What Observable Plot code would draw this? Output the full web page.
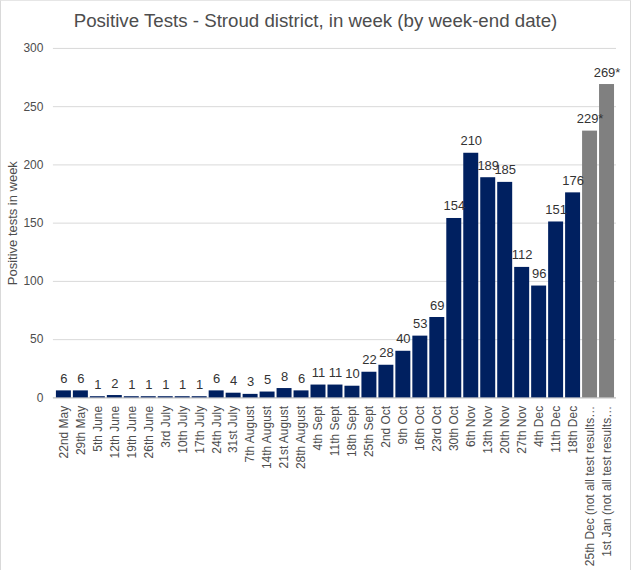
<!DOCTYPE html>
<html>
<head>
<meta charset="utf-8">
<script src="https://cdn.jsdelivr.net/npm/d3@7"></script>
<script src="https://cdn.jsdelivr.net/npm/@observablehq/plot@0.6"></script>
<style>
  html, body { margin: 0; padding: 0; background: #fff; }
  #wrap { position: relative; width: 629px; height: 569px; border: 1px solid #d9d9d9; border-top-color: #e6e6e6; box-sizing: content-box; overflow: hidden; }
  #title { position: absolute; top: 9px; left: 0; width: 629px; text-align: center; font-family: "Liberation Sans", Arial, sans-serif; font-size: 18.7px; color: #4d4d4d; white-space: nowrap; }
  #chart { position: absolute; left: -1px; top: -1px; }
</style>
</head>
<body>
<div id="wrap">
  <div id="chart"></div>
  <div id="title">Positive Tests - Stroud district, in week (by week-end date)</div>
</div>
<script>
const weeks = [
  "22nd May", "29th May", "5th June", "12th June", "19th June", "26th June",
  "3rd July", "10th July", "17th July", "24th July", "31st July",
  "7th August", "14th August", "21st August", "28th August",
  "4th Sept", "11th Sept", "18th Sept", "25th Sept",
  "2nd Oct", "9th Oct", "16th Oct", "23rd Oct", "30th Oct",
  "6th Nov", "13th Nov", "20th Nov", "27th Nov",
  "4th Dec", "11th Dec", "18th Dec",
  "25th Dec (not all test results…", "1st Jan (not all test results…"
];
const positives = [6, 6, 1, 2, 1, 1, 1, 1, 1, 6, 4, 3, 5, 8, 6, 11, 11, 10, 22, 28, 40, 53, 69, 154, 210, 189, 185, 112, 96, 151, 176, 229, 269];
const valueLabels = ["6", "6", "1", "2", "1", "1", "1", "1", "1", "6", "4", "3", "5", "8", "6", "11", "11", "10", "22", "28", "40", "53", "69", "154", "210", "189", "185", "112", "96", "151", "176", "229*", "269*"];
const status = [
  "complete", "complete", "complete", "complete", "complete", "complete", "complete", "complete", "complete", "complete", "complete",
  "complete", "complete", "complete", "complete", "complete", "complete", "complete", "complete", "complete", "complete", "complete",
  "complete", "complete", "complete", "complete", "complete", "complete", "complete", "complete", "complete",
  "incomplete", "incomplete"
];
const yTicks = [0, 50, 100, 150, 200, 250, 300];

const data = weeks.map((w, i) => ({ week: w, value: positives[i], label: valueLabels[i], status: status[i] }));

const font = "'Liberation Sans', Arial, sans-serif";

const chart = Plot.plot({
  width: 631,
  height: 570,
  marginTop: 48,
  marginBottom: 172,
  marginLeft: 53,
  marginRight: 14,
  style: { fontFamily: font, fontSize: "12px", color: "#4d4d4d", background: "transparent" },
  x: { domain: weeks, padding: 0.12, label: null, tickSize: 0, tickPadding: 8, tickRotate: -90 },
  y: { domain: [0, 300], ticks: yTicks, label: null, tickSize: 0, tickPadding: 10 },
  color: { domain: ["complete", "incomplete"], range: ["#002060", "#808080"] },
  marks: [
    Plot.gridY(yTicks, { stroke: "#d9d9d9", strokeOpacity: 1 }),
    Plot.ruleY([0], { stroke: "#c0c0c0" }),
    Plot.barY(data, { x: "week", y: "value", fill: "status" }),
    Plot.text(data, { x: "week", y: "value", text: "label", lineAnchor: "bottom", dy: -8, fill: "#333333", fontSize: 13 }),
    Plot.axisY({ ticks: yTicks, tickSize: 0, tickPadding: 10, label: null, fontSize: 12 }),
    Plot.text(["Positive tests in week"], { frameAnchor: "left", textAnchor: "middle", dx: -41, rotate: -90, fontSize: 13, fill: "#4d4d4d" })
  ]
});
document.getElementById("chart").appendChild(chart);
</script>
</body>
</html>
